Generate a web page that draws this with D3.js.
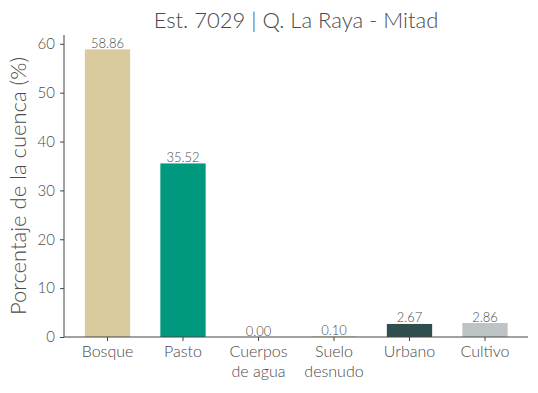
<!DOCTYPE html>
<html>
<head>
<meta charset="utf-8">
<script src="https://cdn.jsdelivr.net/npm/d3@7"></script>
<style>
  body { margin: 0; background: #fff; }
  text { font-family: "Lato", "Noto Sans", sans-serif; font-weight: 300; fill: #4a4a4a; }
</style>
</head>
<body>
<script>
// Data
var categories = ["Bosque", "Pasto", "Cuerpos\nde agua", "Suelo\ndesnudo", "Urbano", "Cultivo"];
var values = [58.86, 35.52, 0.00, 0.10, 2.67, 2.86];
var colors = ["#D9CB9E", "#00997F", "#D9CB9E", "#D9CB9E", "#2E4F4D", "#BEC3C6"];
var yTicks = [0, 10, 20, 30, 40, 50, 60];

var width = 538, height = 393;
var plot = {left: 64, right: 528, top: 35, bottom: 337};

var svg = d3.select("body").append("svg")
    .attr("width", width)
    .attr("height", height);

var xScale = d3.scaleBand()
    .domain(categories)
    .range([69.75, 522.75])
    .paddingInner(0.4)
    .paddingOuter(0.2);
var yScale = d3.scaleLinear()
    .domain([0, 61.8])
    .range([plot.bottom, plot.top]);

// Bars
svg.selectAll("rect.bar")
    .data(values)
    .enter().append("rect")
    .attr("class", "bar")
    .attr("x", function(d, i) { return xScale(categories[i]); })
    .attr("width", xScale.bandwidth())
    .attr("y", function(d) { return yScale(d); })
    .attr("height", function(d) { return plot.bottom - yScale(d); })
    .attr("fill", function(d, i) { return colors[i]; });

// Value labels
svg.selectAll("text.val")
    .data(values)
    .enter().append("text")
    .attr("class", "val")
    .attr("x", function(d, i) { return xScale(categories[i]) + xScale.bandwidth() / 2; })
    .attr("y", function(d) { return yScale(d) - 1.5; })
    .attr("text-anchor", "middle")
    .style("font-size", "13px")
    .text(function(d) { return d.toFixed(2); });

// Y axis
var yAxis = svg.append("g")
    .attr("transform", "translate(" + plot.left + ",0)")
    .call(d3.axisLeft(yScale).tickValues(yTicks).tickSize(4).tickPadding(5));
yAxis.select(".domain").attr("d", "M0," + plot.top + "V" + plot.bottom);

// X axis
var xAxis = svg.append("g")
    .attr("transform", "translate(0," + plot.bottom + ")")
    .call(d3.axisBottom(xScale).tickSize(4).tickPadding(5));
xAxis.select(".domain").attr("d", "M" + plot.left + ",0H" + plot.right);
xAxis.selectAll(".tick text").each(function(d) {
    var t = d3.select(this), lines = d.split("\n");
    t.text(null);
    lines.forEach(function(l, i) {
        t.append("tspan").attr("x", 0).attr("dy", i === 0 ? "0.71em" : "1.2em").text(l);
    });
});

svg.selectAll(".domain, .tick line").attr("stroke", "#444").attr("stroke-width", 1);
svg.selectAll(".tick text").style("font-size", "16px").attr("fill", "#4a4a4a");
yAxis.selectAll(".tick text").style("font-size", "15px");

// Title and y label
svg.append("text")
    .attr("x", (plot.left + plot.right) / 2)
    .attr("y", 28)
    .attr("text-anchor", "middle")
    .style("font-size", "22px")
    .text("Est. 7029 | Q. La Raya - Mitad");

svg.append("text")
    .attr("text-anchor", "middle")
    .attr("transform", "translate(26," + (plot.top + plot.bottom) / 2 + ")rotate(-90)")
    .style("font-size", "22px")
    .text("Porcentaje de la cuenca (%)");
</script>
</body>
</html>
